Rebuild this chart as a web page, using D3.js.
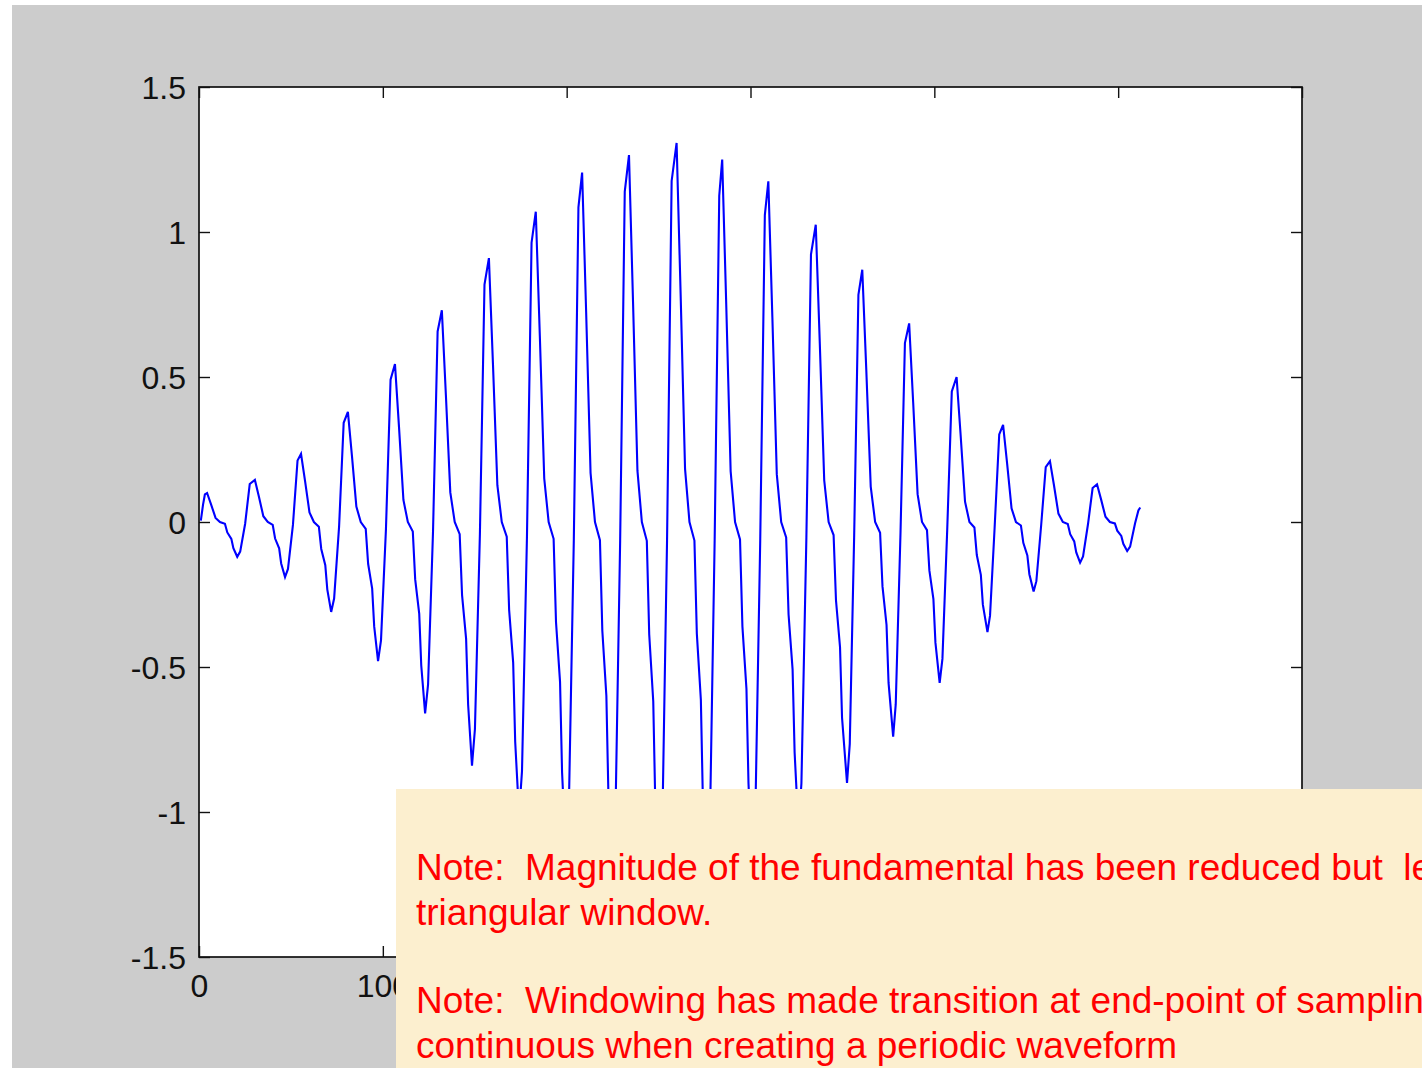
<!DOCTYPE html>
<html>
<head>
<meta charset="utf-8">
<script src="https://cdn.jsdelivr.net/npm/d3@7"></script>
<style>
  html, body { margin: 0; padding: 0; background: #ffffff; overflow: hidden; }
  svg { display: block; }
</style>
</head>
<body>
<script>
// Triangular-windowed periodic waveform: [sample index, amplitude] vertices
const waveform = [
  [1,0.005],[2.2,0.06],[3.2,0.095],
  [4.4,0.1],[6.6,0.06],[9.0,0.014],[11.4,0],[14.1,-0.006],[15.4,-0.036],[17.6,-0.058],[18.7,-0.09],[20.8,-0.12],[22.4,-0.102],[25.1,-0.006],[27.6,0.131],
  [30.4,0.145],[32.6,0.087],[35.0,0.02],[37.4,0],[40.1,-0.01],[41.4,-0.057],[43.6,-0.091],[44.7,-0.143],[46.8,-0.19],[48.4,-0.162],[51.1,-0.01],[53.6,0.212],
  [55.5,0.235],[57.7,0.141],[60.1,0.033],[62.5,0],[65.2,-0.016],[66.5,-0.093],[68.7,-0.149],[69.8,-0.233],[71.9,-0.31],[73.5,-0.264],[76.2,-0.016],[78.7,0.342],
  [81.0,0.38],[83.2,0.228],[85.6,0.053],[88.0,0],[90.7,-0.024],[92.0,-0.144],[94.2,-0.23],[95.3,-0.36],[97.4,-0.48],[99.0,-0.408],[101.7,-0.024],[104.2,0.491],
  [106.6,0.545],[108.8,0.327],[111.2,0.076],[113.6,0],[116.3,-0.033],[117.6,-0.198],[119.8,-0.317],[120.9,-0.495],[123.0,-0.66],[124.6,-0.561],[127.3,-0.033],[129.8,0.657],
  [132.1,0.73],[134.3,0.438],[136.7,0.102],[139.1,0],[141.8,-0.042],[143.1,-0.252],[145.3,-0.403],[146.4,-0.63],[148.5,-0.84],[150.1,-0.714],[152.8,-0.042],[155.3,0.819],
  [157.7,0.91],[159.9,0.546],[162.3,0.127],[164.7,0],[167.4,-0.051],[168.7,-0.303],[170.9,-0.485],[172.0,-0.758],[174.1,-1.01],[175.7,-0.859],[178.4,-0.051],[180.9,0.963],
  [183.2,1.07],[185.4,0.642],[187.8,0.15],[190.2,0],[192.9,-0.058],[194.2,-0.345],[196.4,-0.552],[197.5,-0.863],[199.6,-1.15],[201.2,-0.978],[203.9,-0.058],[206.4,1.085],
  [208.4,1.205],[210.6,0.723],[213.0,0.169],[215.4,0],[218.1,-0.063],[219.4,-0.375],[221.6,-0.6],[222.7,-0.938],[224.8,-1.25],[226.4,-1.063],[229.1,-0.063],[231.6,1.139],
  [233.9,1.265],[236.1,0.759],[238.5,0.177],[240.9,0],[243.6,-0.065],[244.9,-0.387],[247.1,-0.619],[248.2,-0.968],[250.3,-1.29],[251.9,-1.097],[254.6,-0.065],[257.1,1.176],
  [259.8,1.307],[262.0,0.784],[264.4,0.183],[266.8,0],[269.5,-0.064],[270.8,-0.384],[273.0,-0.614],[274.1,-0.96],[276.2,-1.28],[277.8,-1.088],[280.5,-0.064],[283.0,1.125],
  [284.6,1.25],[286.8,0.75],[289.2,0.175],[291.6,0],[294.3,-0.06],[295.6,-0.36],[297.8,-0.576],[298.9,-0.9],[301.0,-1.2],[302.6,-1.02],[305.3,-0.06],[307.8,1.058],
  [309.7,1.175],[311.9,0.705],[314.3,0.165],[316.7,0],[319.4,-0.053],[320.7,-0.318],[322.9,-0.509],[324.0,-0.795],[326.1,-1.06],[327.7,-0.901],[330.4,-0.053],[332.9,0.923],
  [335.5,1.025],[337.7,0.615],[340.1,0.144],[342.5,0],[345.2,-0.045],[346.5,-0.27],[348.7,-0.432],[349.8,-0.675],[352.5,-0.9],[354.0,-0.765],[356.4,-0.045],[358.7,0.783],
  [360.8,0.87],[363.0,0.522],[365.4,0.122],[367.8,0],[370.5,-0.037],[371.8,-0.222],[374.0,-0.355],[375.1,-0.555],[377.6,-0.74],[379.0,-0.629],[381.6,-0.037],[384.0,0.617],
  [386.3,0.685],[388.5,0.411],[390.9,0.096],[393.3,0],[396.0,-0.028],[397.3,-0.167],[399.5,-0.266],[400.6,-0.416],[402.9,-0.555],[404.4,-0.472],[407.0,-0.028],[409.5,0.45],
  [412.1,0.5],[414.3,0.3],[416.7,0.07],[419.1,0],[421.8,-0.019],[423.1,-0.114],[425.3,-0.182],[426.4,-0.285],[428.9,-0.38],[430.3,-0.323],[432.8,-0.019],[435.3,0.302],
  [437.4,0.335],[439.6,0.201],[442.0,0.047],[444.4,0],[447.1,-0.012],[448.4,-0.072],[450.6,-0.115],[451.7,-0.18],[454.0,-0.24],[455.5,-0.204],[458.1,-0.012],[460.6,0.189],
  [462.9,0.21],[465.1,0.126],[467.5,0.029],[469.9,0],[472.6,-0.007],[473.9,-0.042],[476.1,-0.067],[477.2,-0.105],[479.3,-0.14],[480.9,-0.119],[483.6,-0.007],[486.1,0.117],
  [488.5,0.13],[490.7,0.078],[493.1,0.018],[495.5,0],[498.2,-0.005],[499.5,-0.03],[501.7,-0.048],[502.8,-0.075],[504.9,-0.1],[506.5,-0.085],[509.2,-0.004],[511.0,0.04],[512,0.05]
];

// Axis ticks
const xTicks = [0, 100, 200, 300, 400, 500, 600];
const xTickLabels = ["0", "100", "200", "300", "400", "500", "600"];
const yTicks = [-1.5, -1, -0.5, 0, 0.5, 1, 1.5];
const yTickLabels = ["-1.5", "-1", "-0.5", "0", "0.5", "1", "1.5"];

// Annotation text lines
const noteLines = [
  "Note:  Magnitude of the fundamental has been reduced but  leakage",
  "triangular window.",
  "Note:  Windowing has made transition at end-point of sampling",
  "continuous when creating a periodic waveform"
];

const W = 1422, H = 1068;
const plot = { left: 199, right: 1302, top: 87, bottom: 957 };
const noteBox = { x: 396, y: 789 };

const svg = d3.select("body").append("svg")
  .attr("width", W).attr("height", H);

// figure background
svg.append("rect").attr("x", 12).attr("y", 5)
  .attr("width", W - 12).attr("height", H - 5).attr("fill", "#cccccc");

// axes background
svg.append("rect")
  .attr("x", plot.left).attr("y", plot.top)
  .attr("width", plot.right - plot.left).attr("height", plot.bottom - plot.top)
  .attr("fill", "#ffffff");

const x = d3.scaleLinear().domain([0, 600]).range([plot.left, plot.right]);
const y = d3.scaleLinear().domain([-1.5, 1.5]).range([plot.bottom, plot.top]);

const tickLen = 11;
const fontAxis = "'Liberation Sans', Arial, Helvetica, sans-serif";

function styleAxis(g) {
  g.select(".domain").remove();
  g.selectAll(".tick line").attr("stroke", "#111").attr("stroke-width", 1.4);
  g.selectAll(".tick text")
    .attr("fill", "#111")
    .style("font-family", fontAxis)
    .style("font-size", "32px");
}

// left axis with labels
svg.append("g")
  .attr("transform", `translate(${plot.left},0)`)
  .call(d3.axisLeft(y).tickValues(yTicks)
    .tickFormat((d, i) => yTickLabels[i])
    .tickSize(-tickLen).tickPadding(13))
  .call(styleAxis)
  .call(g => g.selectAll(".tick text").attr("dy", "0.36em"));

// right axis (ticks only)
svg.append("g")
  .attr("transform", `translate(${plot.right},0)`)
  .call(d3.axisRight(y).tickValues(yTicks).tickFormat("").tickSize(-tickLen))
  .call(styleAxis);

// bottom axis; labels lying under the note box are left out
svg.append("g")
  .attr("transform", `translate(0,${plot.bottom})`)
  .call(d3.axisBottom(x).tickValues(xTicks)
    .tickFormat((d, i) => x(d) < noteBox.x ? xTickLabels[i] : "")
    .tickSize(-tickLen).tickPadding(17))
  .call(styleAxis);

// top axis (ticks only)
svg.append("g")
  .attr("transform", `translate(0,${plot.top})`)
  .call(d3.axisTop(x).tickValues(xTicks).tickFormat("").tickSize(-tickLen))
  .call(styleAxis);

// waveform
const line = d3.line().x(d => x(d[0])).y(d => y(d[1]));
svg.append("path")
  .datum(waveform)
  .attr("d", line)
  .attr("fill", "none")
  .attr("stroke", "#0000ff")
  .attr("stroke-width", 2.1)
  .attr("stroke-linejoin", "miter");

// axes frame
svg.append("rect")
  .attr("x", plot.left).attr("y", plot.top)
  .attr("width", plot.right - plot.left).attr("height", plot.bottom - plot.top)
  .attr("fill", "none").attr("stroke", "#111").attr("stroke-width", 1.7);

// annotation box
svg.append("rect")
  .attr("x", noteBox.x).attr("y", noteBox.y)
  .attr("width", W - noteBox.x + 10).attr("height", H - noteBox.y + 10)
  .attr("fill", "#fcefcf");

const baselines = [880, 925, 1013, 1058];
svg.append("g").selectAll("text")
  .data(noteLines)
  .join("text")
  .attr("x", 416)
  .attr("y", (d, i) => baselines[i])
  .attr("xml:space", "preserve")
  .style("white-space", "pre")
  .style("font-family", fontAxis)
  .style("font-size", "37px")
  .attr("fill", "#ff0000")
  .text(d => d);
</script>
</body>
</html>
